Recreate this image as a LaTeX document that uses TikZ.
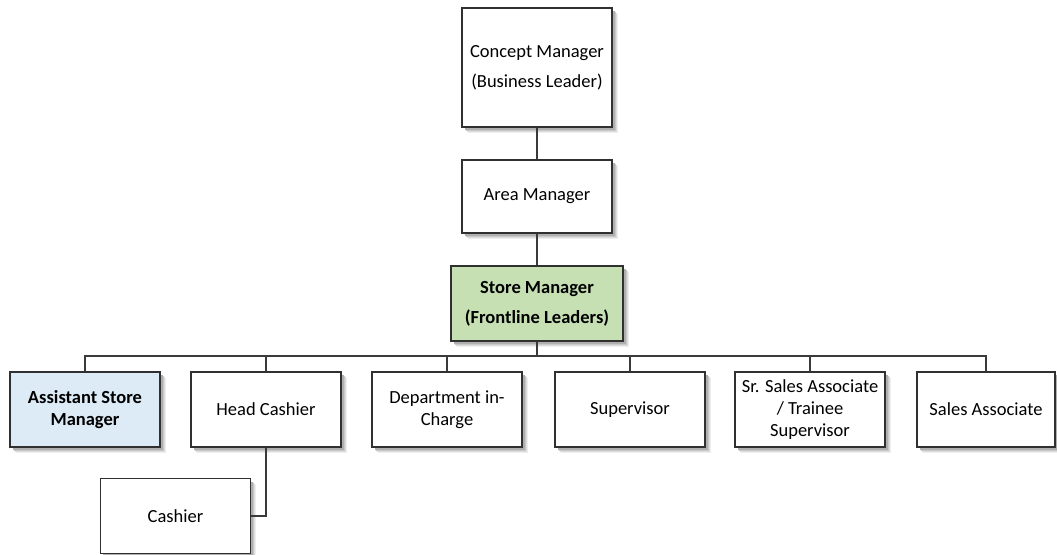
\documentclass[tikz,border=0pt]{standalone}
\usepackage{fontspec}
\setmainfont{Carlito}
\definecolor{edgegray}{HTML}{303030}
\definecolor{linkgray}{HTML}{3A3A3A}
\definecolor{leadgreen}{HTML}{C6E0B4}
\definecolor{asmblue}{HTML}{DDEBF7}
\definecolor{shadeA}{HTML}{EEEEEE}
\definecolor{shadeB}{HTML}{DDDDDD}
\definecolor{shadeC}{HTML}{C8C8C8}
\definecolor{shadeD}{HTML}{AFAFAF}
\tikzset{
  role/.style={draw=edgegray, line width=1.2pt, fill=white, align=center,
    minimum width=150pt, minimum height=75pt, inner sep=2pt,
    font=\fontsize{18.5}{22}\selectfont},
  link/.style={draw=linkgray, line width=1.3pt},
  % layered offset copies of a box outline give a soft drop shadow
  shadowed/.style={
    preaction={fill=shadeA, draw=none, transform canvas={shift={(5.5pt,-6pt)}}},
    preaction={fill=shadeB, draw=none, transform canvas={shift={(4.5pt,-5pt)}}},
    preaction={fill=shadeC, draw=none, transform canvas={shift={(3.5pt,-4pt)}}},
    preaction={fill=shadeD, draw=none, transform canvas={shift={(2.5pt,-3pt)}}}}
}
\begin{document}
\begin{tikzpicture}[x=1pt, y=-1pt]
  \useasboundingbox (0,0) rectangle (1057,554);
  % upper chain
  \node[role, shadowed, minimum height=119pt] (cm) at (537,67.5) {Concept Manager\\[8pt](Business Leader)};
  \node[role, shadowed, minimum height=73pt] (am) at (537,196.5) {Area Manager};
  \node[role, shadowed, minimum width=172pt, fill=leadgreen, font=\fontsize{18.5}{22}\selectfont\bfseries] (sm) at (537,303.5) {Store Manager\\[8pt](Frontline Leaders)};
  % bus level
  \coordinate (bus) at (537,356);
  % direct reports
  \node[role, shadowed, fill=asmblue, font=\fontsize{18.5}{22}\selectfont\bfseries] (asm) at (85,409.5) {Assistant Store\\Manager};
  \node[role, shadowed] (hc) at (266,409.5) {Head Cashier};
  \node[role, shadowed] (dic) at (447,409.5) {Department in-\\Charge};
  \node[role, shadowed] (sup) at (630,409.5) {Supervisor};
  \node[role, shadowed] (ssa) at (810,409.5) {Sr. Sales Associate\\/ Trainee\\Supervisor};
  \node[role, shadowed, minimum width=138pt] (sa) at (986,409.5) {Sales Associate};
  \node[role, shadowed] (ca) at (175.5,516) {Cashier};
  % connectors
  \draw[link] (cm.south) -- (am.north);
  \draw[link] (am.south) -- (sm.north);
  \draw[link] (sm.south) -- (bus);
  \draw[link] (asm.north) |- (bus) -| (sa.north);
  \draw[link] (hc.north) -- (hc.north |- bus);
  \draw[link] (dic.north) -- (dic.north |- bus);
  \draw[link] (sup.north) -- (sup.north |- bus);
  \draw[link] (ssa.north) -- (ssa.north |- bus);
  \draw[link] (hc.south) |- (ca.east);
\end{tikzpicture}
\end{document}
